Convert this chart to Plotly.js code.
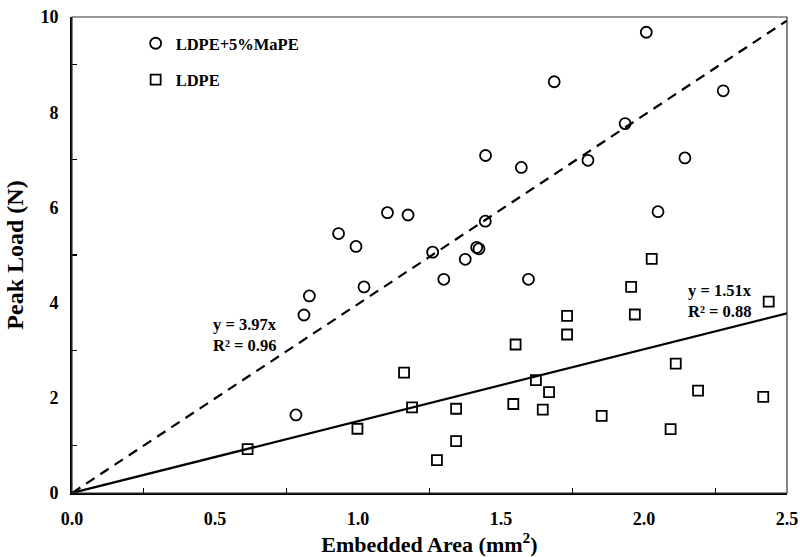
<!DOCTYPE html>
<html>
<head>
<meta charset="utf-8">
<script src="https://cdn.plot.ly/plotly-3.0.1.min.js"></script>
<style>html,body{margin:0;padding:0;background:#fff;}#chart{width:800px;height:557px;}</style>
</head>
<body>
<div id="chart"></div>
<script>
// LDPE + 5% MaPE
const mapeArea = [0.783,0.811,0.830,0.932,0.993,1.021,1.103,1.175,1.261,1.300,1.375,1.415,1.423,1.445,1.446,1.571,1.596,1.686,1.804,1.934,2.008,2.049,2.143,2.277];
const mapeLoad = [1.64,3.74,4.14,5.45,5.18,4.33,5.89,5.84,5.06,4.49,4.91,5.16,5.13,5.71,7.09,6.84,4.49,8.64,6.99,7.76,9.68,5.91,7.04,8.45];
// LDPE
const ldpeArea = [0.614,0.998,1.161,1.189,1.276,1.343,1.343,1.543,1.551,1.622,1.646,1.668,1.731,1.731,1.852,1.955,1.968,2.027,2.093,2.111,2.189,2.417,2.436];
const ldpeLoad = [0.92,1.35,2.53,1.80,0.69,1.77,1.09,1.87,3.12,2.37,1.75,2.12,3.72,3.33,1.62,4.33,3.75,4.92,1.34,2.72,2.15,2.02,4.02];
// fitted slopes (through origin)
const slopeMape = 3.97, r2Mape = 0.96;
const slopeLdpe = 1.51, r2Ldpe = 0.88;
const fitX = [0, 2.5];

const serif = 'Liberation Serif, Times New Roman, serif';

const traces = [
  {x: fitX, y: fitX.map(v => slopeMape*v), mode: 'lines', showlegend: false, hoverinfo: 'skip',
   line: {color: '#000', width: 2.2, dash: '10px,7px'}},
  {x: fitX, y: fitX.map(v => slopeLdpe*v), mode: 'lines', showlegend: false, hoverinfo: 'skip',
   line: {color: '#000', width: 2.2}},
  {x: mapeArea, y: mapeLoad, mode: 'markers', name: 'LDPE+5%MaPE', legendgroup: 'a',
   marker: {symbol: 'circle-open', size: 11, color: '#000', line: {width: 1.8, color: '#000'}}},
  {x: ldpeArea, y: ldpeLoad, mode: 'markers', name: 'LDPE', legendgroup: 'b',
   marker: {symbol: 'square-open', size: 10, color: '#000', line: {width: 1.8, color: '#000'}}}
];

const layout = {
  width: 800, height: 557,
  margin: {l: 72, r: 13, t: 17, b: 64},
  paper_bgcolor: '#fff', plot_bgcolor: '#fff',
  font: {family: serif, color: '#000', size: 16, weight: 'bold'},
  showlegend: true,
  legend: {x: 0.089, y: 0.981, xanchor: 'left', yanchor: 'top', bgcolor: 'rgba(0,0,0,0)',
           font: {family: serif, size: 16.5, weight: 'bold', color: '#000'},
           traceorder: 'grouped', tracegroupgap: 12},
  xaxis: {range: [0, 2.5], dtick: 0.5, tick0: 0, tickformat: '.1f', showgrid: false, zeroline: false,
          showline: true, linecolor: '#000', linewidth: 2, ticks: '', ticklabelstandoff: 8,
          minor: {dtick: 0.25, ticks: 'inside', ticklen: 5, tickcolor: '#000', tickwidth: 1.2, showgrid: false},
          tickfont: {family: serif, size: 18, weight: 'bold', color: '#000'},
          title: {text: 'Embedded Area (mm<sup>2</sup>)', font: {family: serif, size: 22, weight: 'bold', color: '#000'}, standoff: 5},
          fixedrange: true},
  yaxis: {range: [0, 10], dtick: 2, tick0: 0, showgrid: false, zeroline: false,
          showline: true, linecolor: '#000', linewidth: 2, ticks: '', ticklabelstandoff: 8,
          minor: {dtick: 1, ticks: 'inside', ticklen: 5, tickcolor: '#000', tickwidth: 1.2, showgrid: false},
          tickfont: {family: serif, size: 18, weight: 'bold', color: '#000'},
          title: {text: 'Peak Load (N)', font: {family: serif, size: 24, weight: 'bold', color: '#000'}, standoff: 10},
          fixedrange: true},
  shapes: [{type: 'rect', xref: 'paper', yref: 'paper', x0: 0, x1: 1, y0: 0, y1: 1,
            line: {color: '#333', width: 1.2}, fillcolor: 'rgba(0,0,0,0)', layer: 'above'}],
  annotations: [
    {x: 0.486, y: 3.32, xref: 'x', yref: 'y', xanchor: 'left', yanchor: 'middle', align: 'left', showarrow: false,
     text: 'y = ' + slopeMape.toFixed(2) + 'x<br>R² = ' + r2Mape.toFixed(2),
     font: {family: serif, size: 16.5, weight: 'bold', color: '#000'}},
    {x: 2.147, y: 4.03, xref: 'x', yref: 'y', xanchor: 'left', yanchor: 'middle', align: 'left', showarrow: false,
     text: 'y = ' + slopeLdpe.toFixed(2) + 'x<br>R² = ' + r2Ldpe.toFixed(2),
     font: {family: serif, size: 16.5, weight: 'bold', color: '#000'}}
  ]
};

Plotly.newPlot('chart', traces, layout, {displayModeBar: false, staticPlot: true});
</script>
</body>
</html>
